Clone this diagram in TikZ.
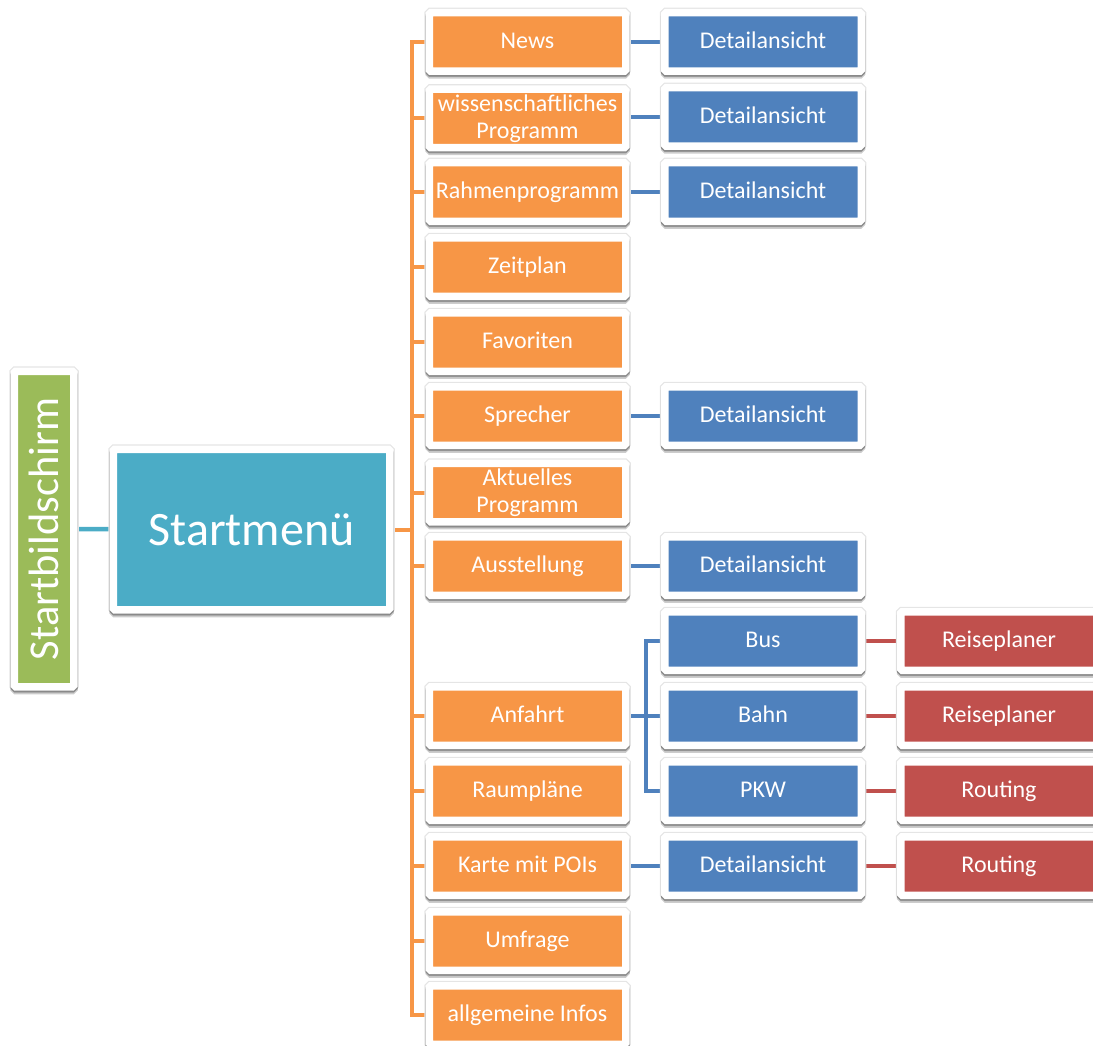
\documentclass[tikz,border=0pt]{standalone}
\usepackage{fontspec}
\setmainfont{Carlito}
\usetikzlibrary{backgrounds}
\definecolor{corange}{HTML}{F79646}
\definecolor{cblue}{HTML}{4F81BD}
\definecolor{cred}{HTML}{C0504D}
\definecolor{cgreen}{HTML}{9BBB59}
\definecolor{cteal}{HTML}{4BACC6}
\tikzset{
  card/.style={draw=white, line width=7.5pt, rounded corners=1.5pt, text=white,
    align=center, inner sep=0pt, font=\fontsize{24}{27}\selectfont,
    preaction={draw=black!10, line width=10pt},
    preaction={draw=black, fill=black, line width=8pt, opacity=.2, transform canvas={yshift=-3.5pt}},
    preaction={draw=black, fill=black, line width=7.5pt, opacity=.25, transform canvas={yshift=-2pt}}},
  small/.style={card, minimum width=196.5pt, minimum height=58.5pt, text height=15.5pt, text depth=3pt},
  twoline/.style={text height={}, text depth={}, yshift=-1.5pt},
  oitem/.style={small, fill=corange},
  bitem/.style={small, fill=cblue},
  ritem/.style={small, fill=cred},
  olink/.style={draw=corange, line width=4pt},
  blink/.style={draw=cblue, line width=4.5pt},
  rlink/.style={draw=cred, line width=4.5pt},
  tlink/.style={draw=cteal, line width=4.5pt},
}
\begin{document}
\begin{tikzpicture}[x=1pt, y=-1pt]
\useasboundingbox (0,0) rectangle (1093,1046);
\clip (0,0) rectangle (1093,1046);
% root nodes
\node[card, fill=cgreen, rotate=90, minimum width=315.5pt, minimum height=59.5pt,
  font=\fontsize{42.5}{46}\selectfont] (sb) at (44,529) {Startbildschirm};
\node[card, fill=cteal, minimum width=276.5pt, minimum height=160.5pt,
  font=\fontsize{48}{52}\selectfont] (sm) at (251.5,529.5) {Startmenü};
% orange column
\node[oitem] (o1) at (527.5,42) {News};
\node[oitem, twoline] (o2) at (527.5,117) {wissenschaftliches\\Programm};
\node[oitem] (o3) at (527.5,192) {Rahmenprogramm};
\node[oitem] (o4) at (527.5,267) {Zeitplan};
\node[oitem] (o5) at (527.5,342) {Favoriten};
\node[oitem] (o6) at (527.5,416) {Sprecher};
\node[oitem, twoline] (o7) at (527.5,491) {Aktuelles\\Programm};
\node[oitem] (o8) at (527.5,566) {Ausstellung};
\node[oitem] (o9) at (527.5,716) {Anfahrt};
\node[oitem] (o10) at (527.5,791) {Raumpläne};
\node[oitem] (o11) at (527.5,866) {Karte mit POIs};
\node[oitem] (o12) at (527.5,941) {Umfrage};
\node[oitem] (o13) at (527.5,1015) {allgemeine Infos};
% blue column
\node[bitem] (d1) at (763,42) {Detailansicht};
\node[bitem] (d2) at (763,117) {Detailansicht};
\node[bitem] (d3) at (763,192) {Detailansicht};
\node[bitem] (d6) at (763,416) {Detailansicht};
\node[bitem] (d8) at (763,566) {Detailansicht};
\node[bitem] (bus) at (763,641) {Bus};
\node[bitem] (bahn) at (763,716) {Bahn};
\node[bitem] (pkw) at (763,791) {PKW};
\node[bitem] (d11) at (763,866) {Detailansicht};
% red column
\node[ritem] (r1) at (999,641) {Reiseplaner};
\node[ritem] (r2) at (999,716) {Reiseplaner};
\node[ritem] (r3) at (999,791) {Routing};
\node[ritem] (r4) at (999,866) {Routing};
% connectors
\begin{scope}[on background layer]
  \draw[tlink] (sb) -- (sm);
  \coordinate (tr) at (412,529.5);
  \foreach \n in {o1,o2,o3,o4,o5,o6,o7,o8,o9,o10,o11,o12,o13}
    \draw[olink] (sm.east) -- (tr) |- (\n.west);
  \foreach \a/\b in {o1/d1,o3/d3,o6/d6,o8/d8,o11/d11}
    \draw[blink] (\a) -- (\b);
  \draw[blink] (o2.east |- d2) -- (d2);
  \coordinate (bt) at (646,716);
  \foreach \n in {bus,bahn,pkw}
    \draw[blink] (o9.east) -- (bt) |- (\n.west);
  \foreach \a/\b in {bus/r1,bahn/r2,pkw/r3,d11/r4}
    \draw[rlink] (\a) -- (\b);
\end{scope}
\end{tikzpicture}
\end{document}
